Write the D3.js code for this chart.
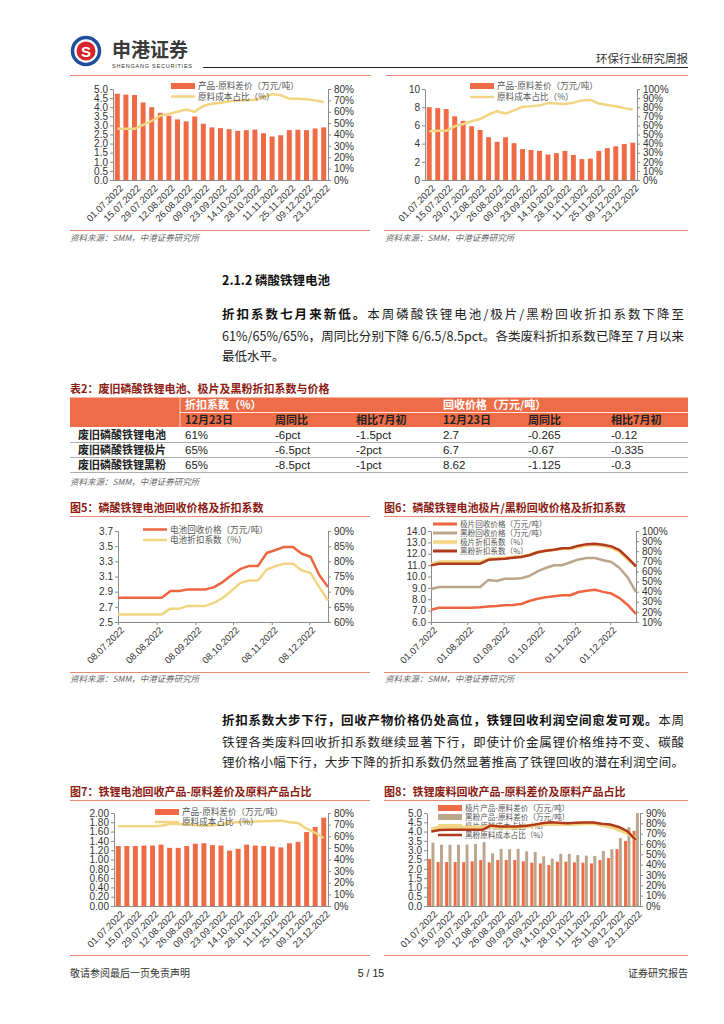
<!DOCTYPE html>
<html><head><meta charset="utf-8">
<script src="https://cdn.jsdelivr.net/npm/d3@7"></script>
<style>body{margin:0;background:#fff;}svg{display:block;}</style>
</head><body>
<svg id="page" width="724" height="1024"></svg>
<script>
// ---------------- DATA ----------------
const weekCats = ["01.07.2022","08.07.2022","15.07.2022","22.07.2022","29.07.2022","05.08.2022","12.08.2022","19.08.2022","26.08.2022","02.09.2022","09.09.2022","16.09.2022","23.09.2022","30.09.2022","14.10.2022","21.10.2022","28.10.2022","04.11.2022","11.11.2022","18.11.2022","25.11.2022","02.12.2022","09.12.2022","16.12.2022","23.12.2022"];

// top-left (continued chart)
const spreadA = [4.74,4.69,4.67,4.26,4.00,3.69,3.53,3.33,3.22,3.49,3.09,2.89,2.85,2.79,2.70,2.74,2.77,2.57,2.39,2.46,2.74,2.76,2.74,2.83,2.89];
const costA   = [45,45,45,48.5,52,56.5,58,60,62,60,65,67,68,69,70,70,70.5,73,75.5,74.5,71.5,71.5,71,70,68.5];
// top-right (continued chart)
const spreadB = [8.0,7.9,7.8,7.0,6.5,5.9,5.5,4.7,4.2,4.7,4.05,3.4,3.3,3.2,2.8,2.95,3.2,2.75,2.3,2.35,3.2,3.5,3.7,3.95,4.1];
const costB   = [53.5,54,54,59,61.5,64.5,67,72,75.5,73,76.5,80.5,81,82,84.5,84,83.5,85,87.5,88,84,82.5,81,79,77.5];

// table 2
const tableRows   = ["废旧磷酸铁锂电池","废旧磷酸铁锂极片","废旧磷酸铁锂黑粉"];
const tableGroups = ["折扣系数（%）","回收价格（万元/吨）"];
const tableSubs   = ["12月23日","周同比","相比7月初","12月23日","周同比","相比7月初"];
const discNow   = ["61%","65%","65%"];
const discWoW   = ["-6pct","-6.5pct","-8.5pct"];
const discVsJul = ["-1.5pct","-2pct","-1pct"];
const priceNow   = ["2.7","6.7","8.62"];
const priceWoW   = ["-0.265","-0.67","-1.125"];
const priceVsJul = ["-0.12","-0.335","-0.3"];

// fig5
const fig5Dates = ["2022-07-08","2022-07-15","2022-07-22","2022-07-29","2022-08-05","2022-08-12","2022-08-19","2022-08-26","2022-09-02","2022-09-09","2022-09-16","2022-09-23","2022-09-30","2022-10-07","2022-10-14","2022-10-21","2022-10-28","2022-11-04","2022-11-11","2022-11-18","2022-11-25","2022-12-02","2022-12-09","2022-12-16","2022-12-23"];
const fig5Price = [2.82,2.82,2.82,2.82,2.82,2.82,2.91,2.91,2.93,2.93,2.93,2.96,3.03,3.12,3.20,3.24,3.24,3.41,3.45,3.49,3.49,3.40,3.36,3.12,2.96];
const fig5Disc  = [62.5,62.5,62.5,62.5,62.5,62.5,64.4,64.4,65.3,65.3,65.3,66.4,68,70.4,72.9,73.7,73.7,77.3,78.4,79.2,79.2,77,76.2,71.5,67.1];
const fig5Ticks = ["08.07.2022","08.08.2022","08.09.2022","08.10.2022","08.11.2022","08.12.2022"];

// fig6
const fig6Dates = ["2022-07-01","2022-07-08","2022-07-15","2022-07-22","2022-07-29","2022-08-05","2022-08-12","2022-08-19","2022-08-26","2022-09-02","2022-09-09","2022-09-16","2022-09-23","2022-09-30","2022-10-07","2022-10-14","2022-10-21","2022-10-28","2022-11-04","2022-11-11","2022-11-18","2022-11-25","2022-12-02","2022-12-09","2022-12-16","2022-12-23"];
const fig6SheetPrice  = [7.08,7.26,7.26,7.26,7.26,7.26,7.30,7.37,7.40,7.47,7.50,7.58,7.85,8.05,8.18,8.26,8.35,8.35,8.64,8.75,8.84,8.65,8.50,8.10,7.50,6.70];
const fig6PowderPrice = [8.90,9.08,9.08,9.08,9.08,9.08,9.08,9.70,9.60,9.80,9.80,9.85,10.05,10.45,10.75,10.99,10.99,11.25,11.50,11.62,11.63,11.43,11.28,10.75,9.90,8.62];
const fig6SheetDisc   = [67.5,69.5,69.5,69.5,69.5,69.5,69.5,72.5,73,73.3,74,75,76.5,79,80.5,81.5,82.5,82.5,84.5,86,86.5,85.5,83.5,79.5,72,65];
const fig6PowderDisc  = [66,67.7,67.7,67.7,67.7,67.7,67.7,71.5,72,72.6,73.5,74.3,76,79,80.5,81.5,83,83.2,85.5,87,87.5,86.3,84.8,81,73.5,65];
const fig6Ticks = ["01.07.2022","01.08.2022","01.09.2022","01.10.2022","01.11.2022","01.12.2022"];

// fig7
const fig7Spread = [1.29,1.29,1.29,1.30,1.30,1.32,1.25,1.25,1.29,1.34,1.35,1.31,1.30,1.19,1.23,1.32,1.30,1.29,1.28,1.26,1.35,1.38,1.59,1.70,1.90];
const fig7Cost   = [68.5,68.5,68.5,68.5,68.5,69,70.5,70.5,70.3,69.5,69,69.5,70,72,72,72.3,72.6,73,73.2,73.5,72,71.3,66.5,63,58.5];

// fig8
const fig8SheetSpread  = [2.53,2.36,2.36,2.36,2.36,2.40,2.47,2.35,2.47,2.47,2.47,2.40,2.33,2.29,2.20,2.38,2.38,2.35,2.33,2.29,2.47,2.58,3.05,3.50,4.04];
const fig8PowderSpread = [3.41,3.29,3.29,3.29,3.30,3.34,3.43,2.83,3.07,3.05,3.07,2.94,2.91,2.67,2.55,2.80,2.80,2.74,2.71,2.69,2.96,3.05,3.65,4.24,5.00];
const fig8SheetCost    = [74.4,76,76,76,76,76,76,77,76.5,76,76,77,78,79,79.3,79.3,79.3,79.5,80,80.2,78.5,77,74,70.5,65];
const fig8PowderCost   = [72,73.5,73.7,73.7,73.7,73.7,73.7,78,77,77,77,77.5,78.5,80,81,80.5,80.2,80.5,80.9,80.9,79.5,78.8,76.5,72.5,64];

// ---------------- STYLE ----------------
const CJK = '"Noto Sans CJK SC","Noto Sans",sans-serif';
const SANS = '"Liberation Sans",Arial,"Noto Sans CJK SC",sans-serif';
const C_BAR = '#EF6B45', C_YEL = '#F2D582', C_TAN = '#BBA68B', C_DRED = '#B23A1C';
const C_RULE = '#E28A74', C_TITLE = '#8C1C13', AX = '#8c8c8c';

const svg = d3.select('#page');
svg.append('rect').attr('width',724).attr('height',1024).attr('fill','#fff');

function txt(x,y,s,o={}){
  return svg.append('text').attr('x',x).attr('y',y).text(s)
    .attr('font-family',o.ff||CJK).attr('font-size',o.fs||12).attr('fill',o.fill||'#222')
    .attr('font-weight',o.fw||'normal').attr('text-anchor',o.anchor||'start')
    .attr('font-style',o.style||'normal');
}
function hline(x1,x2,y,c,w){
  svg.append('line').attr('x1',x1).attr('x2',x2).attr('y1',y).attr('y2',y).attr('stroke',c).attr('stroke-width',w||1);
}
function styleAxis(a){
  a.selectAll('path,line').attr('stroke',AX);
  a.selectAll('text').attr('font-family',SANS).attr('font-size',10).attr('fill','#333');
}
function legend(g,items,x,y0,dy,fs){
  items.forEach((it,i)=>{
    const y=y0+i*dy;
    if(it.type==='rect') g.append('rect').attr('x',x).attr('y',y-3).attr('width',24).attr('height',6).attr('fill',it.color);
    else g.append('line').attr('x1',x).attr('x2',x+24).attr('y1',y).attr('y2',y).attr('stroke',it.color).attr('stroke-width',it.w||2.5);
    g.append('text').attr('x',x+27).attr('y',y+(fs||8.6)*0.36).text(it.label).attr('font-family',CJK).attr('font-size',fs||8.6).attr('fill','#555');
  });
}

// ---------------- HEADER ----------------
svg.append('circle').attr('cx',86).attr('cy',51).attr('r',13.5).attr('fill','#fff').attr('stroke','#1F4E9C').attr('stroke-width',3.5);
svg.append('circle').attr('cx',86).attr('cy',51).attr('r',9.5).attr('fill','#D7262B');
txt(86,56.5,'S',{ff:SANS,fs:15,fw:'bold',fill:'#fff',anchor:'middle'});
txt(112,57,'申港证券',{fs:19,fw:'bold',fill:'#3a3a3a'});
txt(112,67.5,'SHENGANG SECURITIES',{ff:SANS,fs:5.5,fill:'#333'}).attr('textLength',80);
hline(203,688,67.5,'#222',1);
txt(688,63,'环保行业研究周报',{fs:11.5,fill:'#333',anchor:'end'});
hline(70,371,75.5,C_RULE,1);
hline(386,688,75.5,C_RULE,1);

// ---------------- COMBO CHART ----------------
function comboChart(o){
  const g = svg.append('g');
  const x = d3.scaleBand().domain(o.cats).range([o.x0,o.x1]).paddingInner(o.pi).paddingOuter(o.pi/2);
  const yL = d3.scaleLinear().domain(o.lDom).range([o.yB,o.yT]);
  const yR = d3.scaleLinear().domain(o.rDom).range([o.yB,o.yT]);
  const inner = d3.scaleBand().domain(d3.range(o.bars.length)).range([0,x.bandwidth()]).paddingInner(o.bars.length>1?0.12:0);
  o.bars.forEach((b,k)=>{
    g.append('g').selectAll('rect').data(b.values).join('rect')
      .attr('x',(d,i)=>x(o.cats[i])+inner(k)).attr('width',inner.bandwidth())
      .attr('y',d=>yL(d)).attr('height',d=>yL(o.lDom[0])-yL(d)).attr('fill',b.color);
  });
  const aL = g.append('g').attr('transform',`translate(${o.x0},0)`)
    .call(d3.axisLeft(yL).tickValues(o.lTicks).tickFormat(d3.format(o.lFmt)).tickSize(3).tickSizeOuter(0).tickPadding(2));
  const aR = g.append('g').attr('transform',`translate(${o.x1},0)`)
    .call(d3.axisRight(yR).tickValues(o.rTicks).tickFormat(d=>d+'%').tickSize(3).tickSizeOuter(0).tickPadding(3));
  styleAxis(aL); styleAxis(aR);
  g.append('line').attr('x1',o.x0).attr('x2',o.x1).attr('y1',o.yB+0.5).attr('y2',o.yB+0.5).attr('stroke',AX);
  g.append('g').selectAll('text').data(o.cats.filter((c,i)=>i%2===0)).join('text')
    .attr('transform',c=>`translate(${x(c)+x.bandwidth()/2+3},${o.yB+5}) rotate(-45)`)
    .attr('text-anchor','end').attr('dy','0.55em').text(c=>c)
    .attr('font-family',SANS).attr('font-size',9.5).attr('fill','#333');
  if(o.legendFirst) legend(g,o.legend,o.lx,o.ly,o.ldy,o.lfs);
  o.lines.forEach(l=>{
    g.append('path').datum(l.values)
      .attr('d',d3.line().x((d,i)=>x(o.cats[i])+x.bandwidth()/2).y(d=>yR(d)))
      .attr('fill','none').attr('stroke',l.color).attr('stroke-width',l.w).attr('stroke-linejoin','round');
  });
  if(!o.legendFirst) legend(g,o.legend,o.lx,o.ly,o.ldy,o.lfs);
}

comboChart({cats:weekCats,x0:113,x1:328,yT:89,yB:180,pi:0.42,
  lDom:[0,5],lTicks:d3.range(0,5.01,0.5),lFmt:'.1f',rDom:[0,80],rTicks:d3.range(0,81,10),
  bars:[{values:spreadA,color:C_BAR}],lines:[{values:costA,color:C_YEL,w:2.5}],
  legend:[{type:'rect',color:C_BAR,label:'产品-原料差价（万元/吨）'},{type:'line',color:C_YEL,label:'原料成本占比（%）'}],
  lx:171,ly:86,ldy:10.5});
comboChart({cats:weekCats,x0:425,x1:637,yT:89,yB:180,pi:0.42,
  lDom:[0,10],lTicks:d3.range(0,10.01,2),lFmt:'d',rDom:[0,100],rTicks:d3.range(0,101,10),
  bars:[{values:spreadB,color:C_BAR}],lines:[{values:costB,color:C_YEL,w:2.5}],
  legend:[{type:'rect',color:C_BAR,label:'产品-原料差价（万元/吨）'},{type:'line',color:C_YEL,label:'原料成本占比（%）'}],
  lx:470,ly:86,ldy:11});

const SRC = '资料来源：SMM，中港证券研究所';
hline(70,370,230.5,C_RULE,1); hline(384,688,230.5,C_RULE,1);
txt(70,241,SRC,{fs:8.5,fill:'#666',style:'italic'});
txt(385,241,SRC,{fs:8.5,fill:'#666',style:'italic'});

// ---------------- SECTION TEXT ----------------
txt(222,284.5,'2.1.2 磷酸铁锂电池',{fs:12.5,fw:'bold',fill:'#111'});
function para(y,boldPart,rest,justify){
  const t = svg.append('text').attr('x',222).attr('y',y).attr('font-family',CJK).attr('font-size',12.5).attr('fill','#222');
  if(boldPart) t.append('tspan').attr('font-weight','bold').attr('fill','#111').text(boldPart);
  t.append('tspan').text(rest);
  if(justify) t.attr('textLength',462).attr('lengthAdjust','spacing');
}
para(319,'折扣系数七月来新低。','本周磷酸铁锂电池/极片/黑粉回收折扣系数下降至',true);
para(340.5,'','61%/65%/65%，周同比分别下降 6/6.5/8.5pct。各类废料折扣系数已降至 7 月以来',true);
para(361,'','最低水平。',false);

// ---------------- TABLE ----------------
txt(70,392.5,'表2：废旧磷酸铁锂电池、极片及黑粉折扣系数与价格',{fs:11,fw:'bold',fill:C_TITLE});
svg.append('rect').attr('x',70).attr('y',397.5).attr('width',618).attr('height',29.5).attr('fill','#EE6D48');
svg.append('line').attr('x1',180).attr('x2',180).attr('y1',397.5).attr('y2',427).attr('stroke','#fff').attr('stroke-opacity',0.7);
svg.append('line').attr('x1',180).attr('x2',688).attr('y1',412.5).attr('y2',412.5).attr('stroke','#fff').attr('stroke-opacity',0.8);
const colX = [78,185,275,356,443,528,611];
txt(colX[1],409,tableGroups[0],{fs:11,fw:'bold',fill:'#fff'});
txt(colX[4],409,tableGroups[1],{fs:11,fw:'bold',fill:'#fff'});
tableSubs.forEach((s,i)=>txt(colX[i+1],424,s,{fs:11,fw:'bold',fill:'#222'}));
const cols = [discNow,discWoW,discVsJul,priceNow,priceWoW,priceVsJul];
tableRows.forEach((r,i)=>{
  const yb = 439 + i*15;
  txt(colX[0],yb,r,{fs:11,fw:'bold',fill:'#222'});
  cols.forEach((c,j)=>txt(colX[j+1],yb,c[i],{ff:SANS,fs:11.5,fill:'#222'}));
  hline(70,688,442.5+i*15,'#9a9a9a',0.8);
});
txt(70,485,SRC,{fs:8.5,fill:'#666',style:'italic'});

// ---------------- TIME CHARTS ----------------
const parseD = d3.timeParse('%Y-%m-%d'), parseT = d3.timeParse('%d.%m.%Y');
function timeChart(o){
  const g = svg.append('g');
  const dates = o.dates.map(parseD);
  const x = d3.scaleTime().domain([dates[0],dates[dates.length-1]]).range([o.x0,o.x1]);
  const yL = d3.scaleLinear().domain(o.lDom).range([o.yB,o.yT]);
  const yR = d3.scaleLinear().domain(o.rDom).range([o.yB,o.yT]);
  const aL = g.append('g').attr('transform',`translate(${o.x0},0)`)
    .call(d3.axisLeft(yL).tickValues(o.lTicks).tickFormat(d3.format('.1f')).tickSize(3).tickSizeOuter(0).tickPadding(2));
  const aR = g.append('g').attr('transform',`translate(${o.x1},0)`)
    .call(d3.axisRight(yR).tickValues(o.rTicks).tickFormat(d=>d+'%').tickSize(3).tickSizeOuter(0).tickPadding(3));
  styleAxis(aL); styleAxis(aR);
  const tickDates = o.ticks.map(parseT);
  const aB = g.append('g').attr('transform',`translate(0,${o.yB})`)
    .call(d3.axisBottom(x).tickValues(tickDates).tickFormat('').tickSize(3).tickSizeOuter(0));
  styleAxis(aB);
  g.append('g').selectAll('text').data(o.ticks).join('text')
    .attr('transform',t=>`translate(${x(parseT(t))+3},${o.yB+5}) rotate(-45)`)
    .attr('text-anchor','end').attr('dy','0.55em').text(t=>t)
    .attr('font-family',SANS).attr('font-size',9.5).attr('fill','#333');
  o.lines.forEach(l=>{
    const y = l.axis==='L'?yL:yR;
    g.append('path').datum(l.values)
      .attr('d',d3.line().x((d,i)=>x(dates[i])).y(d=>y(d)))
      .attr('fill','none').attr('stroke',l.color).attr('stroke-width',l.w).attr('stroke-linejoin','round');
  });
  legend(g,o.legend,o.lx,o.ly,o.ldy,o.lfs);
}

txt(70,512,'图5：磷酸铁锂电池回收价格及折扣系数',{fs:11,fw:'bold',fill:C_TITLE});
hline(70,370,516.5,C_RULE,1);
txt(384,512,'图6：磷酸铁锂电池极片/黑粉回收价格及折扣系数',{fs:11,fw:'bold',fill:C_TITLE});
hline(384,688,516.5,C_RULE,1);

timeChart({dates:fig5Dates,x0:118,x1:328,yT:531,yB:622,
  lDom:[2.5,3.7],lTicks:[2.5,2.7,2.9,3.1,3.3,3.5,3.7],rDom:[60,90],rTicks:d3.range(60,91,5),ticks:fig5Ticks,
  lines:[{values:fig5Disc,color:C_YEL,w:2.5,axis:'R'},{values:fig5Price,color:'#EE6440',w:2.5,axis:'L'}],
  legend:[{type:'line',color:'#EE6440',label:'电池回收价格（万元/吨）',w:2.5},{type:'line',color:C_YEL,label:'电池折扣系数（%）',w:2.5}],
  lx:143,ly:529.5,ldy:10.5});

timeChart({dates:fig6Dates,x0:431,x1:636,yT:531,yB:622,
  lDom:[6,14],lTicks:d3.range(6,14.01,1),rDom:[10,100],rTicks:d3.range(10,101,10),ticks:fig6Ticks,
  lines:[{values:fig6SheetPrice,color:'#EE6440',w:2.5,axis:'L'},{values:fig6PowderPrice,color:C_TAN,w:2.5,axis:'L'},
         {values:fig6SheetDisc,color:C_YEL,w:3,axis:'R'},{values:fig6PowderDisc,color:C_DRED,w:2.5,axis:'R'}],
  legend:[{type:'line',color:'#EE6440',label:'极片回收价格（万元/吨）',w:3},{type:'line',color:C_TAN,label:'黑粉回收价格（万元/吨）',w:3},
          {type:'line',color:C_YEL,label:'极片折扣系数（%）',w:3.5},{type:'line',color:C_DRED,label:'黑粉折扣系数（%）',w:3}],
  lx:433,ly:524,ldy:9,lfs:7.6});

hline(70,370,672.5,C_RULE,1); hline(384,688,672.5,C_RULE,1);
txt(70,682,SRC,{fs:8.5,fill:'#666',style:'italic'});
txt(385,682,SRC,{fs:8.5,fill:'#666',style:'italic'});

para(725,'折扣系数大步下行，回收产物价格仍处高位，铁锂回收利润空间愈发可观。','本周',true);
para(746.5,'','铁锂各类废料回收折扣系数继续显著下行，即使计价金属锂价格维持不变、碳酸',true);
para(767,'','锂价格小幅下行，大步下降的折扣系数仍然显著推高了铁锂回收的潜在利润空间。',true);

// ---------------- FIG 7 / FIG 8 ----------------
txt(70,796,'图7：铁锂电池回收产品-原料差价及原料产品占比',{fs:11,fw:'bold',fill:C_TITLE});
hline(70,370,800.5,C_RULE,1);
txt(384,796,'图8：铁锂废料回收产品-原料差价及原料产品占比',{fs:11,fw:'bold',fill:C_TITLE});
hline(384,688,800.5,C_RULE,1);

comboChart({cats:weekCats,x0:114,x1:328,yT:813,yB:906,pi:0.42,
  lDom:[0,2],lTicks:d3.range(0,2.001,0.2),lFmt:'.2f',rDom:[0,80],rTicks:d3.range(0,81,10),
  bars:[{values:fig7Spread,color:C_BAR}],lines:[{values:fig7Cost,color:C_YEL,w:2.5}],
  legend:[{type:'rect',color:C_BAR,label:'产品-原料差价（万元/吨）'},{type:'line',color:C_YEL,label:'原料成本占比（%）'}],
  lx:155,ly:812,ldy:10});

comboChart({cats:weekCats,x0:427,x1:640,yT:813,yB:906,pi:0.26,
  lDom:[0,5],lTicks:d3.range(0,5.01,0.5),lFmt:'.1f',rDom:[0,90],rTicks:d3.range(0,91,10),
  bars:[{values:fig8SheetSpread,color:C_BAR},{values:fig8PowderSpread,color:C_TAN}],
  lines:[{values:fig8SheetCost,color:C_YEL,w:4},{values:fig8PowderCost,color:C_DRED,w:2.5}],
  legend:[{type:'rect',color:C_BAR,label:'极片产品-原料差价（万元/吨）'},{type:'rect',color:C_TAN,label:'黑粉产品-原料差价（万元/吨）'},
          {type:'line',color:C_YEL,label:'极片原料成本占比（%）',w:4},{type:'line',color:C_DRED,label:'黑粉原料成本占比（%）',w:2.5}],
  lx:438,ly:808,ldy:9,lfs:7.6,legendFirst:true});

hline(70,370,955.5,C_RULE,1); hline(384,688,955.5,C_RULE,1);

// ---------------- FOOTER ----------------
txt(70,977,'敬请参阅最后一页免责声明',{fs:10,fill:'#333'});
txt(371,977,'5 / 15',{ff:SANS,fs:10.5,fill:'#222',anchor:'middle'});
txt(688,977,'证券研究报告',{fs:10,fill:'#333',anchor:'end'});
</script>
</body></html>
